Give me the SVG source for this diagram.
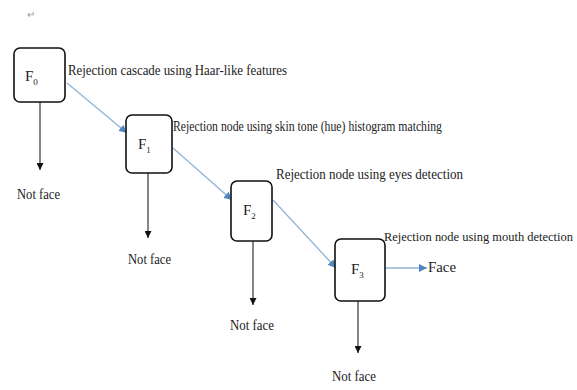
<svg xmlns="http://www.w3.org/2000/svg" width="577" height="390" viewBox="0 0 577 390">
<style>
.box{fill:#fff;stroke:#111;stroke-width:1.6}
.t{font-family:"Liberation Serif","Times New Roman",serif;fill:#222;font-size:14.5px}
.f{font-family:"Liberation Serif","Times New Roman",serif;fill:#222;font-size:15px}
.down{stroke:#444;stroke-width:1.3;fill:none;marker-end:url(#blk)}
.diag{stroke:#8fb3d6;stroke-width:1.3;fill:none;marker-end:url(#blu)}
</style>
<defs>
<marker id="blk" viewBox="0 0 10 10" refX="10" refY="5" markerWidth="7" markerHeight="7" markerUnits="userSpaceOnUse" orient="auto"><path d="M0,0 L10,5 L0,10 Z" fill="#111"/></marker>
<marker id="blu" viewBox="0 0 10 10" refX="10" refY="5" markerWidth="8" markerHeight="8" markerUnits="userSpaceOnUse" orient="auto"><path d="M0,0 L10,5 L0,10 Z" fill="#4f86c0"/></marker>
</defs>
<rect width="577" height="390" fill="#fff"/>
<text x="27" y="18" class="t" style="font-size:10px;fill:#999">↵</text>
<g id="connectors">
<line class="down" x1="40" y1="102" x2="40" y2="170"/>
<line class="down" x1="148" y1="173" x2="148" y2="238"/>
<line class="down" x1="253" y1="241" x2="253" y2="305"/>
<line class="down" x1="358" y1="301" x2="358" y2="353"/>
<line class="diag" x1="67" y1="83" x2="127" y2="133"/>
<line class="diag" x1="173" y1="148" x2="232" y2="200"/>
<line class="diag" x1="273" y1="200" x2="336" y2="268"/>
<line class="diag" x1="386" y1="268" x2="427" y2="268"/>
</g>
<g id="F0">
<rect class="box" x="14" y="48" width="51" height="54" rx="6"/>
<text class="f" x="25" y="81">F<tspan font-size="9" dy="4">0</tspan></text>
<text class="t" x="68" y="75" textLength="219" lengthAdjust="spacingAndGlyphs">Rejection cascade using Haar-like features</text>
</g>
<g id="F1">
<rect class="box" x="126" y="115" width="46" height="58" rx="6"/>
<text class="f" x="138" y="149">F<tspan font-size="9" dy="4">1</tspan></text>
<text class="t" x="173" y="131" textLength="269" lengthAdjust="spacingAndGlyphs">Rejection node using skin tone (hue) histogram matching</text>
</g>
<g id="F2">
<rect class="box" x="231" y="181" width="41" height="60" rx="6"/>
<text class="f" x="243" y="215">F<tspan font-size="9" dy="4">2</tspan></text>
<text class="t" x="276" y="179" textLength="187" lengthAdjust="spacingAndGlyphs">Rejection node using eyes detection</text>
</g>
<g id="F3">
<rect class="box" x="335" y="239" width="50" height="62" rx="6"/>
<text class="f" x="351" y="274">F<tspan font-size="9" dy="4">3</tspan></text>
<text class="t" x="384" y="241" style="font-size:12.6px" textLength="189" lengthAdjust="spacingAndGlyphs">Rejection node using mouth detection</text>
</g>
<g id="Face"><text class="t" x="428" y="272" textLength="28" lengthAdjust="spacingAndGlyphs">Face</text></g>
<g id="NF0"><text class="t" x="17" y="199" textLength="43" lengthAdjust="spacingAndGlyphs">Not face</text></g>
<g id="NF1"><text class="t" x="128" y="264" textLength="43" lengthAdjust="spacingAndGlyphs">Not face</text></g>
<g id="NF2"><text class="t" x="230" y="330" textLength="44" lengthAdjust="spacingAndGlyphs">Not face</text></g>
<g id="NF3"><text class="t" x="332" y="381" textLength="44" lengthAdjust="spacingAndGlyphs">Not face</text></g>
</svg>
